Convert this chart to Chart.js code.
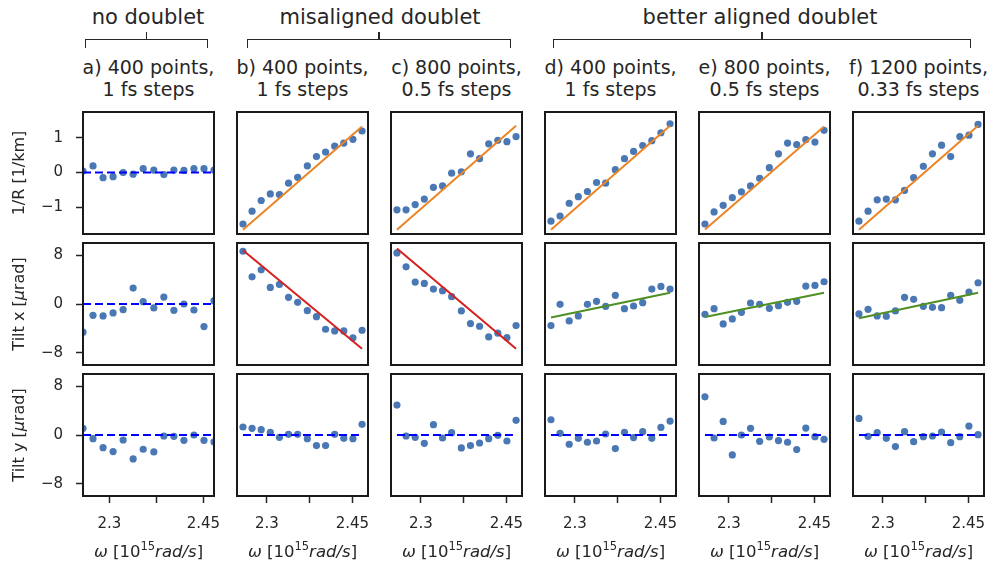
<!DOCTYPE html>
<html>
<head>
<meta charset="utf-8">
<script src="https://cdn.jsdelivr.net/npm/chart.js@4.4.1/dist/chart.umd.min.js"></script>
<style>
body { margin:0; width:991px; height:565px; background:#fff; position:relative; overflow:hidden; font-family:'DejaVu Sans', sans-serif; color:#262626; }
canvas { position:absolute; }
.grp { position:absolute; top:5px; width:300px; text-align:center; font-size:21px; line-height:24px; white-space:nowrap; }
.sub { position:absolute; top:56px; width:200px; text-align:center; font-size:19px; line-height:22px; white-space:nowrap; }
.br { position:absolute; top:39px; height:9px; box-sizing:border-box; border:1.6px solid #262626; border-bottom:none; }
.tk { position:absolute; top:32px; width:1.6px; height:7px; background:#262626; }
</style>
</head>
<body>
<script>
// omega [10^15 rad/s], same 14 samples in every panel
const omega = [2.258, 2.274, 2.290, 2.306, 2.322, 2.338, 2.354, 2.371, 2.387, 2.403, 2.419, 2.435, 2.451, 2.467]

// 1/R [1/km]
const curvA = [0.04, 0.19, -0.15, -0.12, 0, -0.05, 0.11, 0.07, -0.06, 0.07, 0.06, 0.11, 0.11, 0.07]
const curvB = [-1.49, -1.12, -0.81, -0.62, -0.64, -0.31, -0.14, 0.19, 0.46, 0.59, 0.76, 0.85, 0.96, 1.20]
const curvC = [-1.08, -1.08, -0.93, -0.77, -0.43, -0.39, -0.02, 0.02, 0.54, 0.40, 0.83, 0.93, 0.89, 1.04]
const curvD = [-1.41, -1.26, -0.89, -0.70, -0.55, -0.29, -0.31, 0.08, 0.40, 0.61, 0.78, 0.92, 1.15, 1.41]
const curvE = [-1.49, -1.14, -0.95, -0.73, -0.56, -0.39, -0.17, 0.14, 0.54, 0.85, 0.81, 0.95, 0.88, 1.22]
const curvF = [-1.41, -1.12, -0.79, -0.77, -0.79, -0.52, -0.15, 0.18, 0.54, 0.79, 0.46, 1.04, 1.08, 1.39]

// Tilt x [urad]
const tiltXA = [-4.62, -1.85, -1.96, -1.47, -0.93, 2.61, 0.38, -0.65, 1.14, -1.03, 0, -0.98, -3.70, 0.54]
const tiltXB = [8.65, 4.46, 5.60, 2.72, 3.21, 1.09, 0.27, -1.09, -2.07, -4.14, -4.41, -4.41, -5.55, -4.30]
const tiltXC = [8.38, 6.10, 3.59, 3.37, 2.45, 2.18, 1.20, -1.14, -3.21, -3.65, -5.39, -4.79, -5.50, -3.54]
const tiltXD = [-3.54, -0.05, -2.78, -1.96, -0.05, 0.44, -0.38, 1.42, -0.76, -0.33, 0.22, 2.45, 2.88, 2.45]
const tiltXE = [-1.69, -0.76, -3.27, -2.45, -1.36, 0.16, -0.05, -0.71, -0.27, 0.27, 0.44, 2.94, 3.05, 3.65]
const tiltXF = [-1.63, -0.87, -1.96, -2.01, -1.14, 1.09, 0.76, -0.38, -0.54, -0.60, 1.42, 0.60, 1.96, 3.48]

// Tilt y [urad]
const tiltYA = [1.09, -0.60, -2.07, -2.72, -0.82, -3.92, -2.34, -2.78, -0.16, -0.22, -0.87, 0, -0.87, -1.14]
const tiltYB = [1.31, 1.09, 0.88, 0.44, -0.38, 0.11, 0.11, -0.60, -1.74, -1.74, 0.11, -0.54, -0.60, 1.75]
const tiltYC = [4.90, -0.16, -0.38, -1.36, 1.69, -0.49, 0.38, -2.12, -1.74, -1.31, -0.60, -0.05, -0.98, 2.40]
const tiltYD = [2.50, 0.27, -1.52, -0.54, -1.19, -0.98, 0.16, -2.23, 0.44, -0.43, 0.54, -0.54, 1.25, 2.29]
const tiltYE = [6.26, -0.49, 2.23, -3.27, 0, 1.09, -1.03, -0.33, -0.92, -1.19, -2.39, 1.14, -0.27, -0.71]
const tiltYF = [2.72, -0.22, 0.38, -0.54, -1.90, 0.54, -1.09, -0.27, -0.16, 0.49, -1.25, -0.27, 1.47, 0.05]

// fitted lines: value at first and last omega (null = dashed zero line)
const fitCurv = [null, [-1.66, 1.33], [-1.66, 1.35], [-1.66, 1.35], [-1.65, 1.33], [-1.66, 1.35]]
const fitTiltX = [null, [8.82, -7.35], [9.09, -7.35], [-2.23, 1.85], [-2.12, 1.85], [-2.34, 1.85]]
const fitTiltY = [null, null, null, null, null, null]

// ticks
const xTicks = [2.3, 2.375, 2.45]
const xTickLabels = ['2.3', '', '2.45']
const curvTicks = [1, 0, -1]
const curvTickLabels = ['1', '0', '\u22121']
const tiltTicks = [8, 0, -8]
const tiltTickLabels = ['8', '0', '\u22128']

// texts
const groupNames = ['no doublet', 'misaligned doublet', 'better aligned doublet']
const subTitles = [
    ['a) 400 points,', '1 fs steps'],
    ['b) 400 points,', '1 fs steps'],
    ['c) 800 points,', '0.5 fs steps'],
    ['d) 400 points,', '1 fs steps'],
    ['e) 800 points,', '0.5 fs steps'],
    ['f) 1200 points,', '0.33 fs steps']
]
const yTitles = [
    [{t: '1/R [1/km]'}],
    [{t: 'Tilt x ['}, {t: '\u03bc', it: true}, {t: 'rad]'}],
    [{t: 'Tilt y ['}, {t: '\u03bc', it: true}, {t: 'rad]'}]
]
const xTitle = [{t: '\u03c9', it: true}, {t: ' [10'}, {t: '15', sup: true}, {t: 'rad/s', it: true}, {t: ']'}]

const rows = [
    [curvA, curvB, curvC, curvD, curvE, curvF],
    [tiltXA, tiltXB, tiltXC, tiltXD, tiltXE, tiltXF],
    [tiltYA, tiltYB, tiltYC, tiltYD, tiltYE, tiltYF]
]
const fits = [fitCurv, fitTiltX, fitTiltY]

// layout
const FONT = "'DejaVu Sans', sans-serif"
const INK = '#262626'
const colLeft = [83, 237, 391, 545, 699, 853], colW = 131
const rowTop = [112, 243, 374], rowH = 122
const yRange = [[-1.78, 1.75], [-10, 10], [-10, 10]]
const yAxisW = 83, xAxisH = 69

{ // header
    const groups = [[85, 208, 148], [247, 511, 380], [553, 971, 760]]
    let html = ''
    groups.forEach((g, i) => {
        html += `<div class="grp" style="left:${g[2] - 150}px">${groupNames[i]}</div>`
        html += `<div class="br" style="left:${g[0]}px;width:${g[1] - g[0]}px"></div>`
        html += `<div class="tk" style="left:${(g[0] + g[1]) / 2 - 0.8}px"></div>`
    })
    subTitles.forEach((s, c) => {
        const cx = colLeft[c] + colW / 2
        html += `<div class="sub" style="left:${cx - 100}px">${s[0]}<br>${s[1]}</div>`
    })
    document.body.insertAdjacentHTML('beforeend', html)
}

function drawRich(ctx, parts, size, cx, cy, rot) {
    const fontOf = p => `${p.it ? 'italic ' : ''}${p.sup ? size * 0.7 : size}px ${FONT}`
    ctx.save()
    ctx.translate(cx, cy)
    ctx.rotate(rot)
    ctx.textBaseline = 'middle'
    ctx.textAlign = 'left'
    ctx.fillStyle = INK
    let w = 0
    parts.forEach(p => { ctx.font = fontOf(p); w += ctx.measureText(p.t).width })
    let x = -w / 2
    parts.forEach(p => {
        ctx.font = fontOf(p)
        ctx.fillText(p.t, x, p.sup ? -size * 0.38 : 0)
        x += ctx.measureText(p.t).width
    })
    ctx.restore()
}

const framePlugin = {
    id: 'frame',
    afterDraw(chart, args, opts) {
        const {ctx, chartArea: a} = chart
        ctx.save()
        ctx.strokeStyle = '#1a1a1a'
        ctx.lineWidth = 2
        ctx.strokeRect(a.left, a.top, a.right - a.left, a.bottom - a.top)
        ctx.restore()
        if (opts.yTitle) drawRich(ctx, opts.yTitle, 16, 20, (a.top + a.bottom) / 2, -Math.PI / 2)
        if (opts.xTitle) drawRich(ctx, opts.xTitle, 16.5, (a.left + a.right) / 2, a.bottom + 57, 0)
    }
}

function tickScale(show, ticks, labels, fitFn, pad) {
    return {
        type: 'linear',
        display: show,
        afterFit: s => {
            if (!show) return
            fitFn(s)
            // keep the plot box fixed: no extra room for label overhang
            s.paddingTop = s.paddingBottom = s.paddingLeft = s.paddingRight = 0
        },
        afterBuildTicks: s => { s.ticks = ticks.map(v => ({value: v})) },
        ticks: {
            autoSkip: false, maxRotation: 0, padding: pad, color: INK,
            font: {family: FONT, size: 15},
            callback: (v, i) => labels[i]
        },
        grid: {drawOnChartArea: false, drawTicks: true, tickLength: 7, tickWidth: 1.5, tickColor: INK},
        border: {display: false}
    }
}

function makePanel(r, c) {
    const first = c === 0, bottom = r === 2
    const left = first ? 0 : colLeft[c] - 2
    const top = rowTop[r] - 2
    const width = (first ? yAxisW : 2) + colW + 10
    const height = 2 + rowH + (bottom ? xAxisH : 2)

    const cv = document.createElement('canvas')
    cv.width = width
    cv.height = height
    cv.style.left = left + 'px'
    cv.style.top = top + 'px'
    cv.style.width = width + 'px'
    cv.style.height = height + 'px'
    document.body.appendChild(cv)

    const n = omega.length
    const span = omega[n - 1] - omega[0]
    const margin = first ? 0 : span * 0.05

    const fit = fits[r][c]
    let line = [0, 0], color = '#0000ff', dash = [8, 4]
    if (fit) {
        line = fit
        dash = []
        color = r === 0 ? '#ec8424' : (c < 3 ? '#d81f1f' : '#4f8f23')
    }

    const x = tickScale(bottom, xTicks, xTickLabels, s => { s.height = xAxisH }, 12)
    x.min = omega[0] - margin
    x.max = omega[n - 1] + margin
    const y = r === 0
        ? tickScale(first, curvTicks, curvTickLabels, s => { s.width = yAxisW }, 13)
        : tickScale(first, tiltTicks, tiltTickLabels, s => { s.width = yAxisW }, 13)
    y.min = yRange[r][0]
    y.max = yRange[r][1]

    new Chart(cv, {
        type: 'scatter',
        data: {
            datasets: [
                {
                    data: [{x: omega[0], y: line[0]}, {x: omega[n - 1], y: line[1]}],
                    showLine: true, pointRadius: 0, borderColor: color, borderWidth: 2,
                    borderDash: dash, clip: 0
                },
                {
                    data: rows[r][c].map((v, i) => ({x: omega[i], y: v})),
                    pointRadius: 3.6, pointHoverRadius: 3.6,
                    backgroundColor: '#4a78b5', borderColor: '#4a78b5', borderWidth: 0, clip: 0
                }
            ]
        },
        options: {
            responsive: false,
            animation: false,
            devicePixelRatio: 1,
            events: [],
            layout: {
                autoPadding: false,
                padding: {left: first ? 0 : 2, right: 10, top: 2, bottom: bottom ? 0 : 2}
            },
            scales: {x, y},
            plugins: {
                legend: {display: false},
                tooltip: {enabled: false},
                frame: {yTitle: first ? yTitles[r] : null, xTitle: bottom ? xTitle : null}
            }
        },
        plugins: [framePlugin]
    })
}

for (let r = 0; r < 3; r++) {
    for (let c = 0; c < 6; c++) {
        makePanel(r, c)
    }
}
</script>
</body>
</html>
